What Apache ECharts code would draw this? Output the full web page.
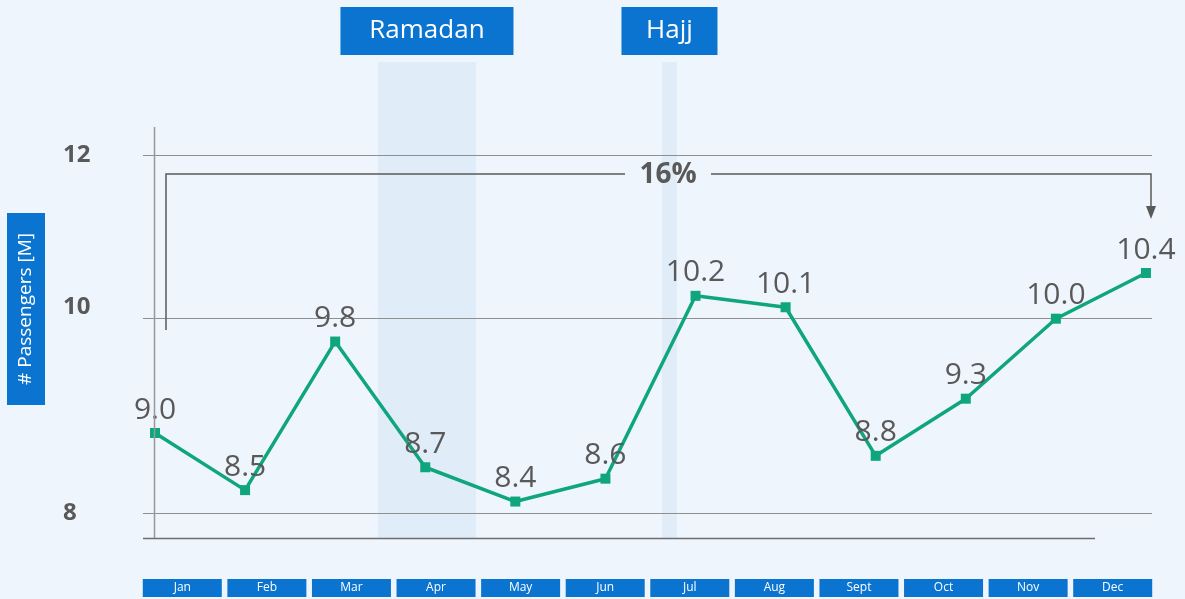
<!DOCTYPE html>
<html>
<head>
<meta charset="utf-8">
<script src="https://cdn.jsdelivr.net/npm/echarts@6/dist/echarts.min.js"></script>
<style>
  html, body { margin: 0; padding: 0; background: #eef5fc; }
  #chart { width: 1185px; height: 599px; }
</style>
</head>
<body>
<div id="chart"></div>
<script>
// 月份 (底部蓝色标签)
const months = ['Jan', 'Feb', 'Mar', 'Apr', 'May', 'Jun', 'Jul', 'Aug', 'Sept', 'Oct', 'Nov', 'Dec']
// 乘客数量 [M]
const passengers = [9.0, 8.5, 9.8, 8.7, 8.4, 8.6, 10.2, 10.1, 8.8, 9.3, 10.0, 10.4]
// 网格线所在的值和对应的刻度文字
const gridLevels = [8.30, 10, 11.43]
const gridLabels = ['8', '10', '12']
// 斋月 / 朝觐 时段 (以月份序号计)
const ramadan = [2.475, 3.563]
const hajj = [5.628, 5.794]

const blue = '#0a74d0'
const grey = '#595959'
const font = '"Open Sans", "Noto Sans", sans-serif'

const chartInstance = echarts.init(document.getElementById('chart'))

const option = {
  backgroundColor: '#eef5fc',
  textStyle: { fontFamily: font },
  grid: [
    { left: 143, right: 33, top: 62, bottom: 61 },
    { left: 140, right: 30, top: 62, bottom: 61 }
  ],
  xAxis: [
    { type: 'value', gridIndex: 0, min: -0.133, max: 11.067, show: false },
    {
      type: 'category',
      gridIndex: 1,
      data: months,
      position: 'bottom',
      boundaryGap: true,
      axisLine: { show: false },
      axisTick: { show: false },
      axisLabel: {
        interval: 0,
        margin: 41,
        color: '#fff',
        fontSize: 12,
        fontFamily: font,
        backgroundColor: blue,
        width: 79,
        height: 18,
        lineHeight: 18,
        align: 'center'
      }
    }
  ],
  yAxis: [
    {
      type: 'value',
      gridIndex: 0,
      min: 8.081,
      max: 12.246,
      axisLine: { show: false },
      axisTick: { show: false },
      splitLine: { show: false },
      axisLabel: {
        customValues: gridLevels,
        margin: 80,
        align: 'left',
        formatter: (v) => {
          const t = gridLabels[gridLevels.indexOf(v)]
          return t === '10' ? '{up|' + t + '}' : t
        },
        color: grey,
        fontSize: 24,
        fontWeight: 'bold',
        fontFamily: font,
        rich: {
          up: { color: grey, fontSize: 24, fontWeight: 'bold', fontFamily: font, padding: [0, 0, 24, 0] }
        }
      }
    },
    { type: 'value', gridIndex: 1, show: false }
  ],
  series: [
    {
      type: 'line',
      xAxisIndex: 0,
      yAxisIndex: 0,
      data: passengers.map((v, i) => [i, v]),
      symbol: 'rect',
      symbolSize: 10,
      lineStyle: { color: '#0fa67e', width: 3.5 },
      itemStyle: { color: '#0fa67e' },
      label: {
        show: true,
        position: 'top',
        distance: 3,
        color: grey,
        fontSize: 30,
        fontFamily: font,
        formatter: (p) => p.value[1].toFixed(1)
      },
      z: 5,
      markLine: {
        silent: true,
        symbol: 'none',
        label: { show: false },
        lineStyle: { color: '#8f8f8f', type: 'solid', width: 1.2 },
        data: gridLevels.map(v => ({ yAxis: v }))
      },
      markArea: {
        silent: true,
        itemStyle: { color: '#e0edf8' },
        label: {
          show: true,
          position: 'top',
          distance: 7,
          color: '#fff',
          fontSize: 26,
          fontFamily: font,
          backgroundColor: blue,
          height: 48,
          lineHeight: 48,
          align: 'center'
        },
        data: [
          [{ name: 'Ramadan', xAxis: ramadan[0], label: { width: 173 } }, { xAxis: ramadan[1] }],
          [{ name: 'Hajj', xAxis: hajj[0], label: { width: 96 } }, { xAxis: hajj[1] }]
        ]
      }
    }
  ],
  graphic: [
    // 纵轴线和底部横线
    { type: 'line', z: 100, shape: { x1: 154.5, y1: 127, x2: 154.5, y2: 538 }, style: { stroke: '#999', lineWidth: 1.5 } },
    { type: 'line', z: 100, shape: { x1: 143, y1: 538.5, x2: 1095, y2: 538.5 }, style: { stroke: '#6e6e6e', lineWidth: 1.5 } },
    // 16% 增长标注
    { type: 'polyline', z: 100, shape: { points: [[166, 330], [166, 174], [625, 174]] }, style: { stroke: grey, lineWidth: 1.5, fill: null } },
    { type: 'polyline', z: 100, shape: { points: [[711, 174], [1151, 174], [1151, 210]] }, style: { stroke: grey, lineWidth: 1.5, fill: null } },
    { type: 'polygon', z: 100, shape: { points: [[1146, 206], [1156, 206], [1151, 219]] }, style: { fill: grey } },
    {
      type: 'text', z: 100, x: 668, y: 175,
      style: { text: '16%', fill: grey, font: 'bold 28px ' + font, align: 'center', verticalAlign: 'middle' }
    },
    // 纵轴标题
    { type: 'rect', z: 100, shape: { x: 7, y: 213, width: 38, height: 192 }, style: { fill: blue } },
    {
      type: 'text', z: 101, x: 26, y: 309, rotation: Math.PI / 2,
      style: { text: '# Passengers [M]', fill: '#fff', font: '19px ' + font, align: 'center', verticalAlign: 'middle' }
    }
  ]
}
chartInstance.setOption(option)
</script>
</body>
</html>
